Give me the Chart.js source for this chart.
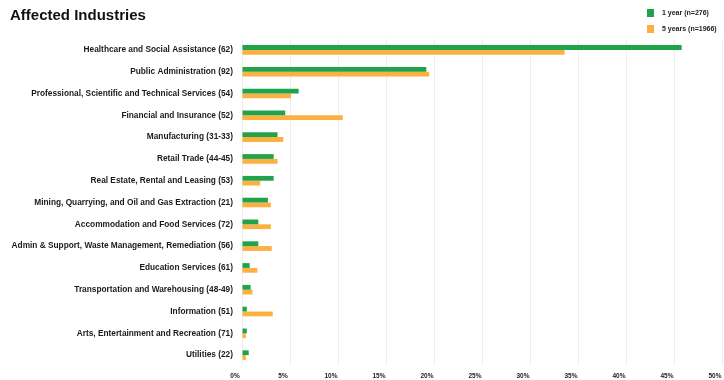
<!DOCTYPE html>
<html lang="en">
<head>
    <meta charset="UTF-8">
    <title>Affected Industries</title>
    <style>
        html, body { margin: 0; padding: 0; background: #fff; }
        #wrap { width: 724px; height: 380px; }
    </style>
</head>
<body>
    <div id="wrap"><canvas id="myChart"></canvas></div>
    <script src="https://cdn.jsdelivr.net/npm/chart.js"></script>
    <script>
        const industries = [
            'Healthcare and Social Assistance (62)',
            'Public Administration (92)',
            'Professional, Scientific and Technical Services (54)',
            'Financial and Insurance (52)',
            'Manufacturing (31-33)',
            'Retail Trade (44-45)',
            'Real Estate, Rental and Leasing (53)',
            'Mining, Quarrying, and Oil and Gas Extraction (21)',
            'Accommodation and Food Services (72)',
            'Admin & Support, Waste Management, Remediation (56)',
            'Education Services (61)',
            'Transportation and Warehousing (48-49)',
            'Information (51)',
            'Arts, Entertainment and Recreation (71)',
            'Utilities (22)'
        ];
        // share of incidents, in percent
        const oneYear = [45.8, 19.2, 5.9, 4.5, 3.7, 3.3, 3.3, 2.7, 1.7, 1.7, 0.8, 0.9, 0.5, 0.5, 0.7];
        const fiveYears = [33.6, 19.5, 5.1, 10.5, 4.3, 3.7, 1.9, 3.0, 3.0, 3.1, 1.6, 1.1, 3.2, 0.4, 0.4];
        const seriesNames = ['1 year (n=276)', '5 years (n=1966)'];
        const xTicks = [0, 5, 10, 15, 20, 25, 30, 35, 40, 45, 50];

        const GREEN = '#21a34c';
        const ORANGE = '#fbb040';
        const FONT = "'Liberation Sans', Arial, sans-serif";

        // legend stacked in the top-right corner
        const cornerLegend = {
            id: 'cornerLegend',
            afterDraw(chart) {
                const ctx = chart.ctx;
                ctx.save();
                ctx.font = 'bold 7px ' + FONT;
                ctx.textBaseline = 'middle';
                chart.data.datasets.forEach((ds, i) => {
                    const y = 13 + i * 16;
                    ctx.fillStyle = ds.backgroundColor;
                    ctx.fillRect(647, y - 4, 7, 8);
                    ctx.fillStyle = '#222';
                    ctx.fillText(ds.label, 662, y);
                });
                ctx.restore();
            }
        };

        const canvas = document.getElementById('myChart');
        new Chart(canvas, {
            type: 'bar',
            data: {
                labels: industries,
                datasets: [
                    { label: seriesNames[0], data: oneYear, backgroundColor: GREEN },
                    { label: seriesNames[1], data: fiveYears, backgroundColor: ORANGE }
                ]
            },
            options: {
                indexAxis: 'y',
                responsive: true,
                maintainAspectRatio: false,
                animation: false,
                layout: { padding: { left: 10, right: 2, bottom: 0 } },
                datasets: {
                    bar: { categoryPercentage: 0.44, barPercentage: 1.0 }
                },
                plugins: {
                    legend: { display: false },
                    tooltip: { enabled: false },
                    title: {
                        display: true,
                        text: 'Affected Industries',
                        align: 'start',
                        color: '#111',
                        font: { family: FONT, size: 15, weight: 'bold' },
                        padding: { top: 7, bottom: 14 }
                    }
                },
                scales: {
                    x: {
                        min: 0,
                        max: 50,
                        afterBuildTicks: s => { s.ticks = xTicks.map(v => ({ value: v })); },
                        afterFit: s => {
                            s.height = 12;
                            s.paddingLeft = 0;
                            s.paddingRight = 0;
                        },
                        grid: { color: '#eeeeee', drawTicks: false },
                        border: { display: false },
                        ticks: {
                            padding: 6,
                            labelOffset: -7,
                            color: '#222',
                            font: { family: FONT, size: 6.5, weight: 'bold' },
                            callback: v => v + '%'
                        }
                    },
                    y: {
                        afterFit: s => { s.width = 232; },
                        grid: { display: false, drawTicks: false },
                        border: { display: false },
                        ticks: {
                            padding: 9,
                            color: '#1a1a1a',
                            font: { family: FONT, size: 8.3, weight: 'bold' }
                        }
                    }
                }
            },
            plugins: [cornerLegend]
        });
    </script>
</body>
</html>
